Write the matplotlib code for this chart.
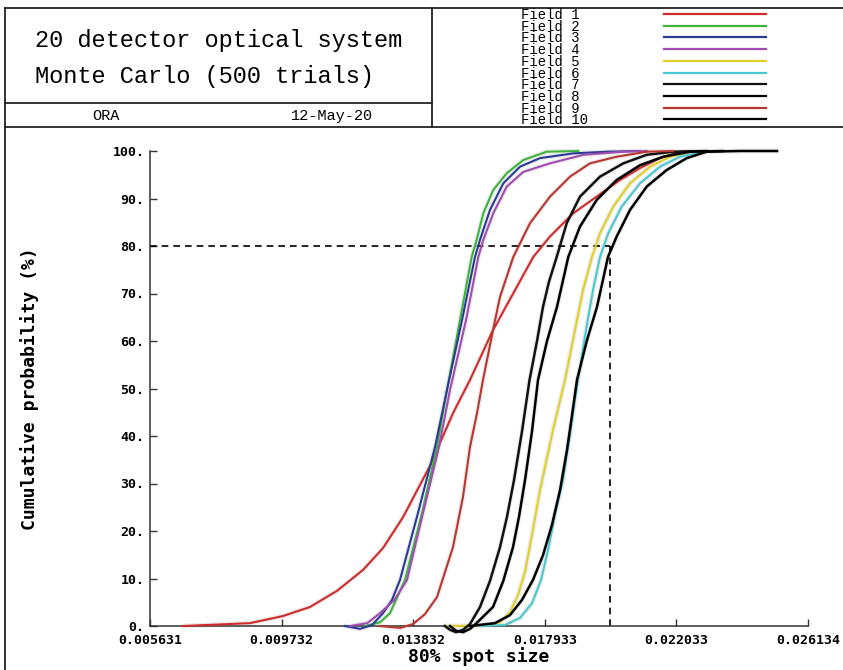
import numpy as np
import matplotlib.pyplot as plt
from matplotlib.lines import Line2D

# ---- data ----
field_names = ["Field 1", "Field 2", "Field 3", "Field 4", "Field 5",
               "Field 6", "Field 7", "Field 8", "Field 9", "Field 10"]
field_colors = ["#d02a2a", "#3cb43c", "#2b3a96", "#a04cb0", "#e2d028",
                "#48c8d0", "#111111", "#000000", "#b83530", "#000000"]

f1_x = [0.006659, 0.008747, 0.009775, 0.010617, 0.011458, 0.012268, 0.012891, 0.013514,
        0.014356, 0.015072, 0.015602, 0.016319, 0.017575, 0.018095, 0.018821, 0.019550,
        0.020276, 0.020899, 0.021523, 0.022146, 0.022551]
f1_y = [0, 0.6, 2.1, 4.0, 7.4, 11.8, 16.4, 22.9, 33.7, 44.8, 51.8, 62.3, 77.7, 82.0,
        86.9, 90.4, 93.9, 96.4, 98.5, 99.85, 100]

f2_x = [0.012330, 0.012800, 0.013109, 0.013577, 0.014107, 0.014574, 0.014885, 0.015291,
        0.015655, 0.015811, 0.016017, 0.016328, 0.016746, 0.017263, 0.017992, 0.018977]
f2_y = [0, 0.8, 2.7, 9.7, 23.8, 37.7, 49.7, 64.4, 77.7, 81.3, 86.9, 91.8, 95.3, 98.1,
        99.85, 100]

f3_x = [0.011707, 0.012175, 0.012549, 0.012891, 0.013172, 0.013421, 0.013982, 0.014512,
        0.014885, 0.015353, 0.015758, 0.015914, 0.016225, 0.016640, 0.017160, 0.017783,
        0.018821, 0.019862, 0.020899]
f3_y = [0, -0.6, 0.2, 2.7, 5.5, 9.7, 23.8, 37.7, 49.7, 64.4, 77.7, 81.3, 87.6, 93.2,
        96.7, 98.5, 99.5, 99.85, 100]

f4_x = [0.011863, 0.012400, 0.012798, 0.013250, 0.013639, 0.014138, 0.014636, 0.014979,
        0.015478, 0.015861, 0.016017, 0.016328, 0.016746, 0.017263, 0.018095, 0.019133,
        0.020379, 0.021108]
f4_y = [0, 0.6, 2.7, 5.5, 9.7, 23.8, 37.7, 49.7, 64.4, 77.7, 81.3, 86.9, 92.5, 95.6,
        97.4, 99.2, 99.85, 100]

f5_x = [0.014885, 0.016225, 0.016537, 0.016849, 0.017098, 0.017316, 0.017534, 0.017783,
        0.018189, 0.018562, 0.018874, 0.019123, 0.019404, 0.019653, 0.020067, 0.020588,
        0.021211, 0.021834, 0.022551]
f5_y = [0, 0.1, 0.8, 2.9, 6.5, 11.4, 19.2, 28.6, 41.3, 51.8, 62.3, 70.7, 77.7, 82.7,
        88.3, 93.2, 96.7, 98.8, 99.85]

f6_x = [0.015914, 0.016693, 0.017160, 0.017534, 0.017815, 0.018033, 0.018251, 0.018500,
        0.018718, 0.018874, 0.018967, 0.019217, 0.019435, 0.019653, 0.019912, 0.020329,
        0.020899, 0.021523, 0.022146, 0.022862]
f6_y = [0, 0.2, 1.7, 4.8, 9.7, 16.0, 23.4, 30.7, 40.2, 47.6, 51.8, 62.3, 70.7, 77.7,
        82.7, 88.3, 93.2, 96.7, 98.8, 99.85]

f7_x = [0.014823, 0.014979, 0.015166, 0.015384, 0.015602, 0.015914, 0.016225, 0.016537,
        0.016755, 0.016973, 0.017223, 0.017457, 0.017690, 0.017877, 0.018064, 0.018304,
        0.018615, 0.019030, 0.019653, 0.020379, 0.021108, 0.021937, 0.022978]
f7_y = [0, -0.8, -1.3, -0.8, 0.4, 4.0, 9.5, 16.6, 23.0, 30.7, 41.0, 51.8, 60.0, 67.2,
        72.5, 77.7, 84.8, 90.4, 94.6, 97.4, 99.2, 99.85, 100]

f8_x = [0.014979, 0.015166, 0.015384, 0.015602, 0.015758, 0.016017, 0.016319, 0.016640,
        0.016942, 0.017129, 0.017316, 0.017534, 0.017721, 0.018002, 0.018313, 0.018665,
        0.019030, 0.019550, 0.020173, 0.020899, 0.021625, 0.022457, 0.023486]
f8_y = [0, -1.0, -1.3, -0.6, 0.3, 2.0, 4.0, 9.5, 16.6, 23.0, 30.7, 41.0, 51.8, 60.0,
        67.2, 77.7, 84.1, 89.7, 93.9, 97.0, 98.8, 99.85, 100]

f9_x = [0.012798, 0.013421, 0.013826, 0.014200, 0.014574, 0.015072, 0.015384, 0.015602,
        0.015820, 0.016007, 0.016319, 0.016537, 0.016951, 0.017472, 0.018095, 0.018718,
        0.019341, 0.020173, 0.021108, 0.021928]
f9_y = [0, -0.4, 0.4, 2.5, 6.1, 16.6, 27.2, 37.7, 44.8, 51.8, 62.3, 69.3, 77.7, 84.8,
        90.4, 94.6, 97.4, 98.8, 99.85, 100]

f10_x = [0.015602, 0.016381, 0.016849, 0.017223, 0.017565, 0.017877, 0.018157, 0.018407,
         0.018625, 0.018781, 0.018936, 0.019248, 0.019560, 0.019902, 0.020173, 0.020588,
         0.021108, 0.021731, 0.022355, 0.022978, 0.024015, 0.025168]
f10_y = [0, 0.6, 2.3, 5.5, 9.7, 14.9, 21.3, 28.6, 37.1, 44.4, 51.8, 60.2, 67.2, 77.7,
         82.0, 87.6, 92.5, 96.0, 98.5, 99.85, 100, 100]

curves = [(f1_x, f1_y), (f2_x, f2_y), (f3_x, f3_y), (f4_x, f4_y), (f5_x, f5_y),
          (f6_x, f6_y), (f7_x, f7_y), (f8_x, f8_y), (f9_x, f9_y), (f10_x, f10_y)]

x_ticks = [0.005631, 0.009732, 0.013832, 0.017933, 0.022033, 0.026134]
x_ticklabels = ["0.005631", "0.009732", "0.013832", "0.017933", "0.022033", "0.026134"]
y_ticks = [0, 10, 20, 30, 40, 50, 60, 70, 80, 90, 100]
y_ticklabels = ["0.", "10.", "20.", "30.", "40.", "50.", "60.", "70.", "80.", "90.", "100."]

level = 80.0
spot_at_level = 0.019965

# ---- figure ----
W, H = 843, 670
fig = plt.figure(figsize=(W / 100, H / 100), dpi=100)

def px(x, y):
    return x / W, 1 - y / H

def frame_line(x0, y0, x1, y1, lw=1.3):
    a, b = px(x0, y0)
    c, d = px(x1, y1)
    fig.add_artist(Line2D([a, c], [b, d], transform=fig.transFigure, color="#222222", lw=lw))

# header boxes
frame_line(5, 8, 843, 8)
frame_line(5, 8, 5, 670)
frame_line(432, 8, 432, 127)
frame_line(5, 103, 432, 103)
frame_line(5, 127, 843, 127)

mono = "Liberation Mono"
fig.text(*px(35, 40), "20 detector optical system", family=mono, fontsize=17, va="center", ha="left")
fig.text(*px(35, 77), "Monte Carlo (500 trials)", family=mono, fontsize=17, va="center", ha="left")
fig.text(*px(106, 116), "ORA", family=mono, fontsize=11, va="center", ha="center")
fig.text(*px(332, 116), "12-May-20", family=mono, fontsize=11, va="center", ha="center")

# legend in header
for i, (name, col) in enumerate(zip(field_names, field_colors)):
    yy = 14 + i * 11.7
    fig.text(*px(521, yy + 1), name, family=mono, fontsize=10, va="center", ha="left")
    a, b = px(664, yy)
    c, _ = px(766, yy)
    fig.add_artist(Line2D([a, c], [b, b], transform=fig.transFigure, color=col, lw=1.6))

# main axes
l, b = px(150, 626)
r, t = px(808, 151)
ax = fig.add_axes([l, b, r - l, t - b])

for cx, cy in curves:
    ax.plot(cx, cy, color="#ececec", lw=3.5, clip_on=False, zorder=1, solid_capstyle="round")
for (cx, cy), col in zip(curves, field_colors):
    lw = 1.8 if col in ("#000000", "#111111") else 1.5
    ax.plot(cx, cy, color=col, lw=lw, clip_on=False, zorder=3, solid_joinstyle="round")

ax.plot([x_ticks[0], spot_at_level], [level, level], color="black", lw=1.2, ls=(0, (4, 3)), zorder=2)
ax.plot([spot_at_level, spot_at_level], [0, level], color="black", lw=1.2, ls=(0, (4, 3)), zorder=2)

ax.set_xlim(x_ticks[0], x_ticks[-1])
ax.set_ylim(0, 100)
ax.spines["top"].set_visible(False)
ax.spines["right"].set_visible(False)
for s in ("left", "bottom"):
    ax.spines[s].set_color("#333333")
    ax.spines[s].set_linewidth(1.1)
ax.set_xticks(x_ticks)
ax.set_xticklabels(x_ticklabels)
ax.set_yticks(y_ticks)
ax.set_yticklabels(y_ticklabels)
ax.tick_params(direction="in", length=5, width=1, colors="#333333", labelcolor="black")
for lab in ax.get_xticklabels() + ax.get_yticklabels():
    lab.set_family("DejaVu Sans Mono")
    lab.set_fontweight("bold")
    lab.set_fontsize(9.5)
ax.tick_params(axis="x", pad=6)
ax.tick_params(axis="y", pad=4)

ax.set_xlabel("80% spot size", family="DejaVu Sans Mono", fontweight="bold", fontsize=13, labelpad=0)
ax.set_ylabel("Cumulative probability (%)", family="DejaVu Sans Mono", fontweight="bold",
              fontsize=13, labelpad=53)

fig.savefig("out.png", dpi=100)
